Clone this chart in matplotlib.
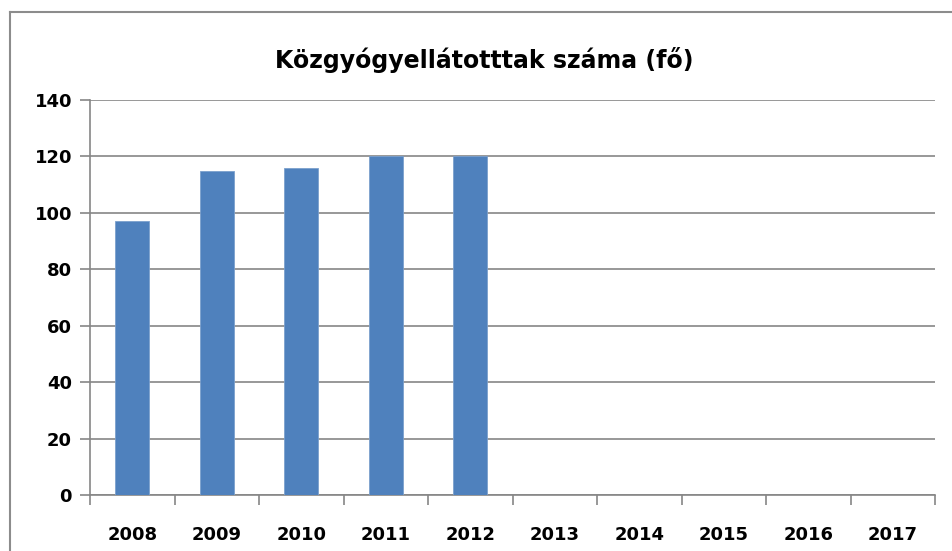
import matplotlib.pyplot as plt
import numpy as np
from matplotlib.lines import Line2D

years = ['2008', '2009', '2010', '2011', '2012', '2013', '2014', '2015', '2016', '2017']
values = [97, 115, 116, 120, 120, 0, 0, 0, 0, 0]
title = 'Közgyógyellátotttak száma (fő)'

plt.rcParams['font.family'] = ['Liberation Sans Narrow', 'DejaVu Sans']
plt.rcParams['font.weight'] = 'bold'

fig = plt.figure(figsize=(9.53, 5.51), dpi=100)
W, H = 953, 551
ax = fig.add_axes([90 / W, 1 - 495 / H, (935 - 90) / W, (495 - 100) / H])

grid_col = '#868686'
x = np.arange(len(years))
ax.bar(x, values, width=0.4, color='#4f81bd', edgecolor='#7ba0cd', linewidth=0.6, zorder=3)

ax.set_xlim(-0.5, len(years) - 0.5)
ax.set_ylim(0, 140)
ax.set_yticks(np.arange(0, 141, 20))
ax.yaxis.grid(True, color=grid_col, linewidth=1.2, zorder=0)

# category labels centred, tick marks between categories
ax.set_xticks(x)
ax.set_xticklabels(years, fontsize=13, fontweight='bold')
ax.tick_params(axis='x', length=0, pad=22)
ax.set_xticks(np.arange(-0.5, len(years)), minor=True)
ax.tick_params(axis='x', which='minor', length=7, color=grid_col, width=1.2)
ax.tick_params(axis='y', length=7, color=grid_col, width=1.2, labelsize=13, pad=6)
for lbl in ax.get_yticklabels():
    lbl.set_fontweight('bold')

for s in ['top', 'right']:
    ax.spines[s].set_visible(False)
for s in ['left', 'bottom']:
    ax.spines[s].set_color(grid_col)
    ax.spines[s].set_linewidth(1.2)

fig.text(484 / W, 1 - 60 / H, title, ha='center', va='center', fontsize=17, fontweight='bold')

# outer chart border (cut off on right and bottom)
fig.add_artist(Line2D([10 / W, 10 / W], [0, 1 - 12 / H], color='#8c8c8c', linewidth=1.5))
fig.add_artist(Line2D([10 / W, 1], [1 - 12 / H, 1 - 12 / H], color='#8c8c8c', linewidth=1.5))

fig.savefig('out.png', dpi=100)
